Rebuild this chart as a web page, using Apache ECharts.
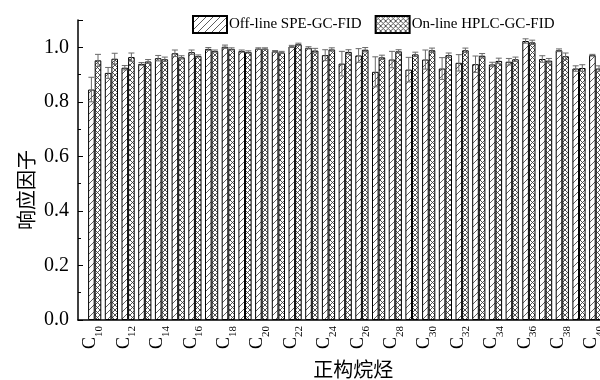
<!DOCTYPE html>
<html><head><meta charset="utf-8">
<script src="https://cdn.jsdelivr.net/npm/echarts@6/dist/echarts.min.js"></script>
<style>html,body{margin:0;padding:0;background:#fff}#c{width:600px;height:380px}</style>
</head><body><div id="c"></div>
<script>
// ---- data ----
const carbons = [10,11,12,13,14,15,16,17,18,19,20,21,22,23,24,25,26,27,28,29,30,31,32,33,34,35,36,37,38,39,40];
const seriesNames = ['Off-line SPE-GC-FID', 'On-line HPLC-GC-FID'];
const offline    = [0.845,0.906,0.925,0.939,0.960,0.978,0.982,0.994,1.002,0.986,0.995,0.985,1.003,0.998,0.971,0.940,0.970,0.910,0.955,0.918,0.955,0.922,0.943,0.938,0.937,0.947,1.023,0.957,0.989,0.922,0.971];
const offlineErr = [0.045,0.020,0.008,0.005,0.010,0.012,0.008,0.005,0.006,0.004,0.003,0.003,0.004,0.004,0.020,0.045,0.025,0.055,0.030,0.045,0.035,0.040,0.030,0.030,0.008,0.012,0.008,0.012,0.005,0.010,0.003];
const online     = [0.952,0.958,0.964,0.948,0.956,0.963,0.968,0.986,0.994,0.983,0.995,0.981,1.011,0.988,0.992,0.983,0.991,0.963,0.985,0.974,0.989,0.971,0.989,0.969,0.950,0.956,1.018,0.951,0.967,0.924,0.922];
const onlineErr  = [0.022,0.020,0.015,0.007,0.008,0.006,0.004,0.004,0.004,0.004,0.003,0.004,0.004,0.008,0.006,0.008,0.008,0.008,0.006,0.008,0.008,0.008,0.008,0.008,0.010,0.008,0.008,0.008,0.012,0.012,0.010];
const xLabelEvery = 2;
const yAxisName = '响应因子';
const xAxisName = '正构烷烃';

// ---- patterns ----
function hatchPattern() {
  const c = document.createElement('canvas'); c.width = 7; c.height = 7;
  const g = c.getContext('2d');
  g.fillStyle = '#fff'; g.fillRect(0, 0, 7, 7);
  g.strokeStyle = '#333'; g.lineWidth = 0.8;
  g.beginPath();
  g.moveTo(-1, 8); g.lineTo(8, -1);
  g.stroke();
  return c;
}
function crossPattern() {
  const c = document.createElement('canvas'); c.width = 5; c.height = 5;
  const g = c.getContext('2d');
  g.fillStyle = '#fff'; g.fillRect(0, 0, 5, 5);
  g.strokeStyle = '#404040'; g.lineWidth = 0.9;
  g.beginPath();
  g.moveTo(-1, -1); g.lineTo(6, 6);
  g.moveTo(6, -1); g.lineTo(-1, 6);
  g.stroke();
  return c;
}
const BAR_W = 6.6;
const serif = 'Liberation Serif';

const chart = echarts.init(document.getElementById('c'), null, {renderer: 'canvas'});

function errSeries(name, vals, errs, shift) {
  return {
    type: 'custom', name: name, z: 5, silent: true,
    data: carbons.map((c, i) => [c, vals[i], errs[i]]),
    encode: {x: 0, y: 1},
    renderItem: function (params, api) {
      const x = api.value(0), v = api.value(1), e = api.value(2);
      const top = api.coord([x, v + e]);
      const bot = api.coord([x, v - e]);
      const cx = top[0] + shift;
      const style = {stroke: '#6a6a6a', lineWidth: 1};
      return {type: 'group', children: [
        {type: 'line', shape: {x1: cx, y1: top[1], x2: cx, y2: bot[1]}, style: style},
        {type: 'line', shape: {x1: cx - 3, y1: top[1], x2: cx + 3, y2: top[1]}, style: style},
        {type: 'line', shape: {x1: cx - 3, y1: bot[1], x2: cx + 3, y2: bot[1]}, style: style}
      ]};
    }
  };
}

chart.setOption({
  animation: false,
  backgroundColor: '#fff',
  grid: {left: 78, top: 20, bottom: 60, width: 534.4, containLabel: false, outerBoundsMode: 'none'},
  legend: {
    data: seriesNames, left: 187, top: 10, itemWidth: 34, itemHeight: 17, itemGap: 13,
    icon: 'rect',
    textStyle: {fontFamily: serif, fontSize: 15, color: '#000', padding: [0, 0, 0, -3]}
  },
  xAxis: {
    type: 'value', min: 9, max: 41, interval: 1,
    axisLine: {show: true, lineStyle: {color: '#000', width: 1.5}},
    axisTick: {show: false},
    splitLine: {show: false},
    axisLabel: {
      rotate: 90, margin: 6,
      formatter: function (v) {
        if (carbons.indexOf(v) < 0 || (v - carbons[0]) % xLabelEvery !== 0) return '';
        return '{c|C}{s|' + v + '}';
      },
      rich: {
        c: {fontFamily: serif, fontSize: 18, color: '#000', lineHeight: 14, padding: [0, 0, 8, 0]},
        s: {fontFamily: serif, fontSize: 11, color: '#000', lineHeight: 12, padding: [9, 0, 0, 0]}
      }
    },
    name: xAxisName, nameLocation: 'middle', nameGap: 39, nameMoveOverlap: false,
    nameTextStyle: {fontFamily: 'Noto Sans CJK SC', fontSize: 20, color: '#000', padding: [0, 0, 0, 16]}
  },
  yAxis: {
    type: 'value', min: 0, max: 1.1, interval: 0.2,
    axisLine: {show: true, lineStyle: {color: '#000', width: 1.5}},
    axisTick: {show: true, inside: true, length: 5, lineStyle: {color: '#000'}},
    minorTick: {show: true, splitNumber: 2, length: 3, lineStyle: {color: '#000'}},
    splitLine: {show: false},
    axisLabel: {
      fontFamily: serif, fontSize: 20, color: '#000', margin: 9,
      formatter: function (v) { return Math.abs(v * 5 - Math.round(v * 5)) < 1e-6 ? v.toFixed(1) : ''; }
    },
    name: yAxisName, nameLocation: 'middle', nameGap: 42, nameRotate: 90, nameMoveOverlap: false,
    nameTextStyle: {fontFamily: 'Noto Sans CJK SC', fontSize: 20, color: '#000', padding: [0, 40, 0, 0]}
  },
  series: [
    {
      type: 'bar', name: seriesNames[0], barWidth: BAR_W, barGap: '0%',
      data: carbons.map((c, i) => [c, offline[i]]),
      itemStyle: {color: {image: hatchPattern(), repeat: 'repeat'}, borderColor: '#000', borderWidth: 1}
    },
    {
      type: 'bar', name: seriesNames[1], barWidth: BAR_W, barGap: '0%',
      data: carbons.map((c, i) => [c, online[i]]),
      itemStyle: {color: {image: crossPattern(), repeat: 'repeat'}, borderColor: '#000', borderWidth: 1}
    },
    errSeries('err-off', offline, offlineErr, -BAR_W / 2),
    errSeries('err-on', online, onlineErr, BAR_W / 2)
  ]
});
</script>
</body></html>
